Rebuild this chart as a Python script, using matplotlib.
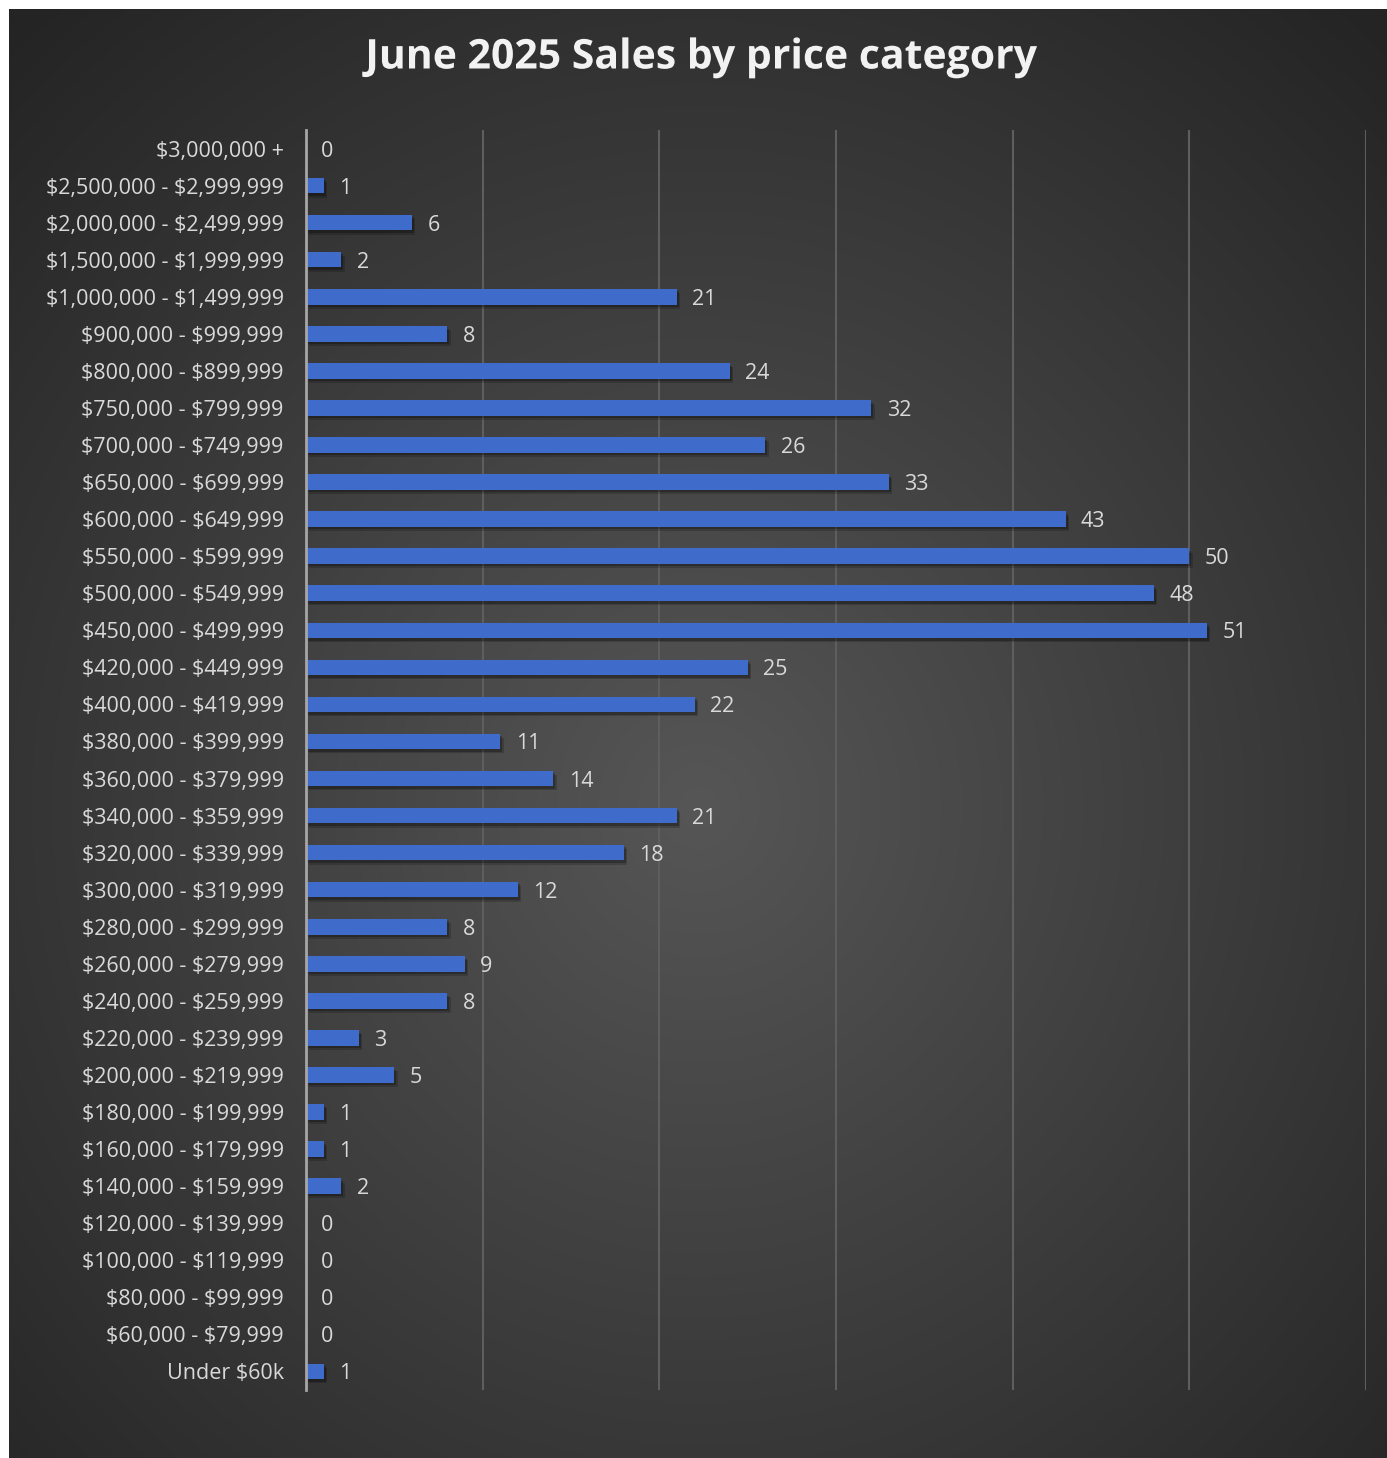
import numpy as np
import matplotlib
matplotlib.use("Agg")
import matplotlib.pyplot as plt
import matplotlib.patheffects as pe

plt.rcParams["text.parse_math"] = False

categories = [
    "$3,000,000 +", "$2,500,000 - $2,999,999", "$2,000,000 - $2,499,999",
    "$1,500,000 - $1,999,999", "$1,000,000 - $1,499,999", "$900,000 - $999,999",
    "$800,000 - $899,999", "$750,000 - $799,999", "$700,000 - $749,999",
    "$650,000 - $699,999", "$600,000 - $649,999", "$550,000 - $599,999",
    "$500,000 - $549,999", "$450,000 - $499,999", "$420,000 - $449,999",
    "$400,000 - $419,999", "$380,000 - $399,999", "$360,000 - $379,999",
    "$340,000 - $359,999", "$320,000 - $339,999", "$300,000 - $319,999",
    "$280,000 - $299,999", "$260,000 - $279,999", "$240,000 - $259,999",
    "$220,000 - $239,999", "$200,000 - $219,999", "$180,000 - $199,999",
    "$160,000 - $179,999", "$140,000 - $159,999", "$120,000 - $139,999",
    "$100,000 - $119,999", "$80,000 - $99,999", "$60,000 - $79,999",
    "Under $60k",
]
sales = [0, 1, 6, 2, 21, 8, 24, 32, 26, 33, 43, 50, 48, 51, 25, 22, 11, 14,
         21, 18, 12, 8, 9, 8, 3, 5, 1, 1, 2, 0, 0, 0, 0, 1]
title = "June 2025 Sales by price category"

W, H = 1387, 1458
fig = plt.figure(figsize=(W / 100, H / 100), dpi=100, facecolor="white")

# background panel with radial gradient
bg = fig.add_axes([9 / W, 0, (W - 9) / W, (H - 9) / H])
bg.set_axis_off()
yy, xx = np.mgrid[0:600, 0:600]
cx, cy = 300, 330
r = np.sqrt((xx - cx) ** 2 + (yy - cy) ** 2) / 440.0
r = np.clip(r, 0, 1)
inner = np.array([0x56, 0x56, 0x56]) / 255
outer = np.array([0x24, 0x24, 0x24]) / 255
img = inner[None, None, :] * (1 - r[..., None]) + outer[None, None, :] * r[..., None]
bg.imshow(img, extent=[0, 1, 0, 1], aspect="auto", origin="upper")
bg.set_xlim(0, 1)
bg.set_ylim(0, 1)

font = ["Open Sans", "DejaVu Sans"]

# main axes
left, right, top, bottom = 306, 1366, 130, 1390
ax = fig.add_axes([left / W, 1 - bottom / H, (right - left) / W, (bottom - top) / H])
ax.set_facecolor("none")
y = np.arange(len(categories))
ax.barh(y, sales, height=0.42, color="#3F6CCB", zorder=3,
        path_effects=[pe.SimplePatchShadow(offset=(2.5, -3), shadow_rgbFace="black", alpha=0.18),
                      pe.SimplePatchShadow(offset=(1.5, -1.8), shadow_rgbFace="black", alpha=0.25),
                      pe.Normal()])
ax.set_ylim(len(categories) - 0.5, -0.5)
ax.set_xlim(0, 60)
ax.set_xticks(np.arange(0, 61, 10))
ax.xaxis.grid(True, color="#5E5E5E", linewidth=1.5, zorder=0)
ax.tick_params(axis="x", length=0, labelbottom=False)
ax.tick_params(axis="y", length=0, pad=16)
ax.set_yticks(y)
ax.set_yticklabels(categories, fontsize=15.5, color="#D9D9D9", family=font)
for s in ["top", "right", "bottom"]:
    ax.spines[s].set_visible(False)
ax.spines["left"].set_color("#A6A6A6")
ax.spines["left"].set_linewidth(2)
ax.spines["left"].set_zorder(4)

for yi, v in zip(y, sales):
    ax.annotate(str(v), xy=(v, yi), xytext=(11, 0), textcoords="offset points",
                va="center_baseline", ha="left", fontsize=15.5, color="#D9D9D9",
                family=font)

fig.text(702 / W, 1 - 58 / H, title, ha="center", va="center", fontsize=29.5,
         fontweight="bold", color="#F2F2F2", family=font,
         path_effects=[pe.SimpleLineShadow(offset=(1.5, -1.5), shadow_color="black", alpha=0.5), pe.Normal()])

fig.savefig("out.png", dpi=100, facecolor="white")
